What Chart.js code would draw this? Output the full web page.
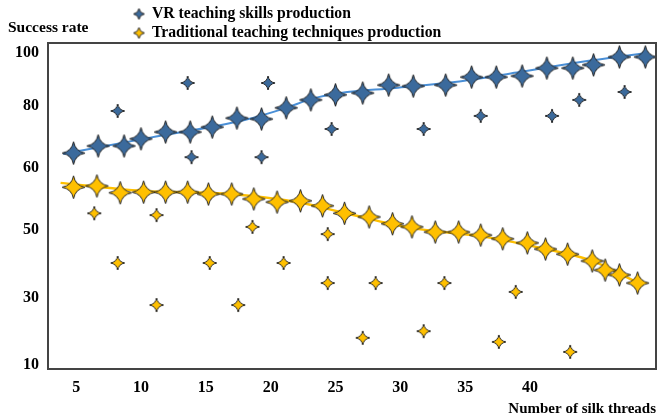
<!DOCTYPE html>
<html>
<head>
<meta charset="utf-8">
<script src="https://cdn.jsdelivr.net/npm/chart.js@4/dist/chart.umd.min.js"></script>
<style>
  body { margin: 0; background: #fff; }
  #wrap { width: 663px; height: 418px; }
</style>
</head>
<body>
<div id="wrap"><canvas id="chart" width="663" height="418"></canvas></div>
<script>
// tick labels
const xTicks = [5, 10, 15, 20, 25, 30, 35, 40];
const yTicks = [10, 30, 50, 60, 80, 100];

// VR teaching skills production
const vrX = [4.8, 6.7, 8.7, 10.0, 11.9, 13.8, 15.5, 17.4, 19.3, 21.2, 23.1, 25.0, 27.1, 29.1, 31.0, 33.5, 35.5, 37.4, 39.4, 41.3, 43.3, 44.9, 46.9, 48.9];
const vrY = [64.8, 67.1, 67.1, 69.4, 71.6, 71.6, 73.2, 76.1, 75.8, 79.4, 82.3, 84.2, 84.9, 87.9, 87.5, 87.9, 90.9, 90.9, 91.3, 94.3, 94.3, 95.5, 98.5, 98.5];
const vrOutX = [8.2, 13.6, 13.9, 19.3, 19.8, 24.7, 31.8, 36.2, 41.7, 43.8, 47.3];
const vrOutY = [78.4, 88.7, 63.5, 63.5, 88.7, 72.6, 72.6, 76.8, 76.8, 82.3, 85.3];
const vrTrendX = [4.0, 10.7, 18.0, 21.2, 23.1, 25.4, 29.6, 34.2, 39.2, 43.9, 49.0];
const vrTrendY = [64.5, 69.8, 75.5, 79.4, 82.6, 84.9, 86.8, 89.1, 92.8, 96.6, 100];

// Traditional teaching techniques production
const trX = [4.8, 6.6, 8.4, 10.2, 11.9, 13.6, 15.2, 17.0, 18.7, 20.5, 22.3, 24.0, 25.7, 27.6, 29.4, 30.9, 32.7, 34.5, 36.2, 37.9, 39.8, 41.2, 42.9, 44.8, 45.8, 46.9, 48.3];
const trY = [56.9, 57.1, 56.0, 56.1, 56.1, 56.1, 55.8, 55.8, 55.0, 54.5, 54.7, 53.9, 52.7, 52.1, 51.0, 50.5, 49.4, 49.4, 48.5, 47.4, 46.2, 44.4, 42.9, 40.9, 38.2, 36.8, 34.4];
const trOutX = [6.4, 11.2, 18.6, 24.4, 8.2, 15.3, 21.0, 24.4, 11.2, 17.5, 27.1, 28.1, 31.8, 33.4, 37.6, 38.9, 43.1];
const trOutY = [52.7, 52.4, 50.5, 48.8, 40.3, 40.3, 40.3, 34.4, 27.9, 27.9, 18.1, 34.4, 20.1, 34.4, 16.9, 31.8, 13.9];
const trTrendX = [3.8, 10.1, 16.9, 22.3, 25.8, 30.9, 36.2, 41.2, 44.8, 48.5];
const trTrendY = [57.6, 56.3, 55.8, 54.4, 52.7, 50.3, 48.2, 44.4, 40.9, 34.1];

const seriesNames = ['VR teaching skills production', 'Traditional teaching techniques production'];

// layout: the y labels are not evenly spaced in the original, these are the gaps between them
const yGaps = [67, 68, 62, 62, 53];
const ySlots = yGaps.reduce((acc, g) => { acc.push(acc[acc.length - 1] + g); return acc; }, [0]);

const BLUE = '#3b6a9c';
const BLUE_LINE = '#4a8fd6';
const ORANGE = '#ffc000';
const OUTLINE = '#222';
const FONT = '"Liberation Serif", "Times New Roman", serif';

// rate -> position on the y axis (piecewise between labels)
const toAxis = (v) => {
  let i = 0;
  while (i < yTicks.length - 2 && v > yTicks[i + 1]) i++;
  const f = (v - yTicks[i]) / (yTicks[i + 1] - yTicks[i]);
  return ySlots[i] + f * (ySlots[i + 1] - ySlots[i]);
};
const pts = (xs, ys) => xs.map((x, i) => ({ x: x, y: toAxis(ys[i]) }));

// four pointed star used as marker
const makeStar = (size, fill) => {
  const pad = 2;
  const c = document.createElement('canvas');
  c.width = c.height = size + pad * 2;
  const g = c.getContext('2d');
  const r = size / 2, cx = r + pad, cy = r + pad, k = r * 0.15;
  g.beginPath();
  g.moveTo(cx, cy - r);
  g.quadraticCurveTo(cx + k, cy - k, cx + r, cy);
  g.quadraticCurveTo(cx + k, cy + k, cx, cy + r);
  g.quadraticCurveTo(cx - k, cy + k, cx - r, cy);
  g.quadraticCurveTo(cx - k, cy - k, cx, cy - r);
  g.closePath();
  g.fillStyle = fill;
  g.fill();
  g.lineWidth = 1;
  g.strokeStyle = OUTLINE;
  g.stroke();
  return c;
};

const blueBig = makeStar(23, BLUE), blueSmall = makeStar(14, BLUE), blueLeg = makeStar(11, BLUE);
const orBig = makeStar(23, ORANGE), orSmall = makeStar(14, ORANGE), orLeg = makeStar(11, ORANGE);

const extras = {
  id: 'extras',
  beforeDraw(chart) {
    const { ctx } = chart;
    ctx.save();
    ctx.fillStyle = '#000';
    ctx.font = 'bold 15.5px ' + FONT;
    ctx.textBaseline = 'middle';
    ctx.textAlign = 'left';
    ctx.fillText('Success rate', 8, 28);
    // legend
    ctx.font = 'bold 15.7px ' + FONT;
    ctx.drawImage(blueLeg, 139 - blueLeg.width / 2, 14 - blueLeg.height / 2);
    ctx.fillText(seriesNames[0], 152, 14);
    ctx.drawImage(orLeg, 139 - orLeg.width / 2, 33 - orLeg.height / 2);
    ctx.fillText(seriesNames[1], 152, 33);
    ctx.restore();
  },
  afterDraw(chart) {
    const { ctx, chartArea: a } = chart;
    ctx.save();
    ctx.strokeStyle = '#444';
    ctx.lineWidth = 2;
    ctx.strokeRect(a.left, a.top, a.right - a.left, a.bottom - a.top);
    ctx.restore();
  }
};

const ctx = document.getElementById('chart').getContext('2d');
new Chart(ctx, {
  type: 'scatter',
  data: {
    datasets: [
      { label: seriesNames[0], data: pts(vrX, vrY), pointStyle: blueBig, pointRadius: 5, order: 1 },
      { label: seriesNames[0], data: pts(vrOutX, vrOutY), pointStyle: blueSmall, pointRadius: 5, order: 1 },
      { label: seriesNames[1], data: pts(trX, trY), pointStyle: orBig, pointRadius: 5, order: 1 },
      { label: seriesNames[1], data: pts(trOutX, trOutY), pointStyle: orSmall, pointRadius: 5, order: 1 },
      { label: 'vr trend', data: pts(vrTrendX, vrTrendY), showLine: true, pointRadius: 0,
        borderColor: BLUE_LINE, borderWidth: 2, cubicInterpolationMode: 'monotone', order: 2 },
      { label: 'trad trend', data: pts(trTrendX, trTrendY), showLine: true, pointRadius: 0,
        borderColor: ORANGE, borderWidth: 2.5, cubicInterpolationMode: 'monotone', order: 2 }
    ]
  },
  options: {
    responsive: false,
    animation: false,
    layout: { padding: { top: 43, right: 7, left: 0, bottom: 0 } },
    plugins: {
      legend: { display: false },
      tooltip: { enabled: false }
    },
    scales: {
      x: {
        type: 'linear',
        min: 2.83,
        max: 49.72,
        afterBuildTicks: (scale) => { scale.ticks = xTicks.map(v => ({ value: v })); },
        afterFit: (scale) => { scale.height = 49; },
        grid: { display: false, drawTicks: false },
        border: { display: false },
        ticks: { color: '#000', padding: 9, font: { family: FONT, size: 16, weight: 'bold' } },
        title: {
          display: true, text: 'Number of silk threads', align: 'end', color: '#000',
          padding: { top: 0, bottom: 0 }, font: { family: FONT, size: 15, weight: 'bold' }
        }
      },
      y: {
        type: 'linear',
        min: -4,
        max: 322,
        afterBuildTicks: (scale) => { scale.ticks = ySlots.map(v => ({ value: v })); },
        afterFit: (scale) => { scale.width = 48; },
        grid: { display: false, drawTicks: false },
        border: { display: false },
        ticks: {
          color: '#000', padding: 9, font: { family: FONT, size: 16, weight: 'bold' },
          callback: (value) => yTicks[ySlots.indexOf(value)]
        }
      }
    }
  },
  plugins: [extras]
});
</script>
</body>
</html>
